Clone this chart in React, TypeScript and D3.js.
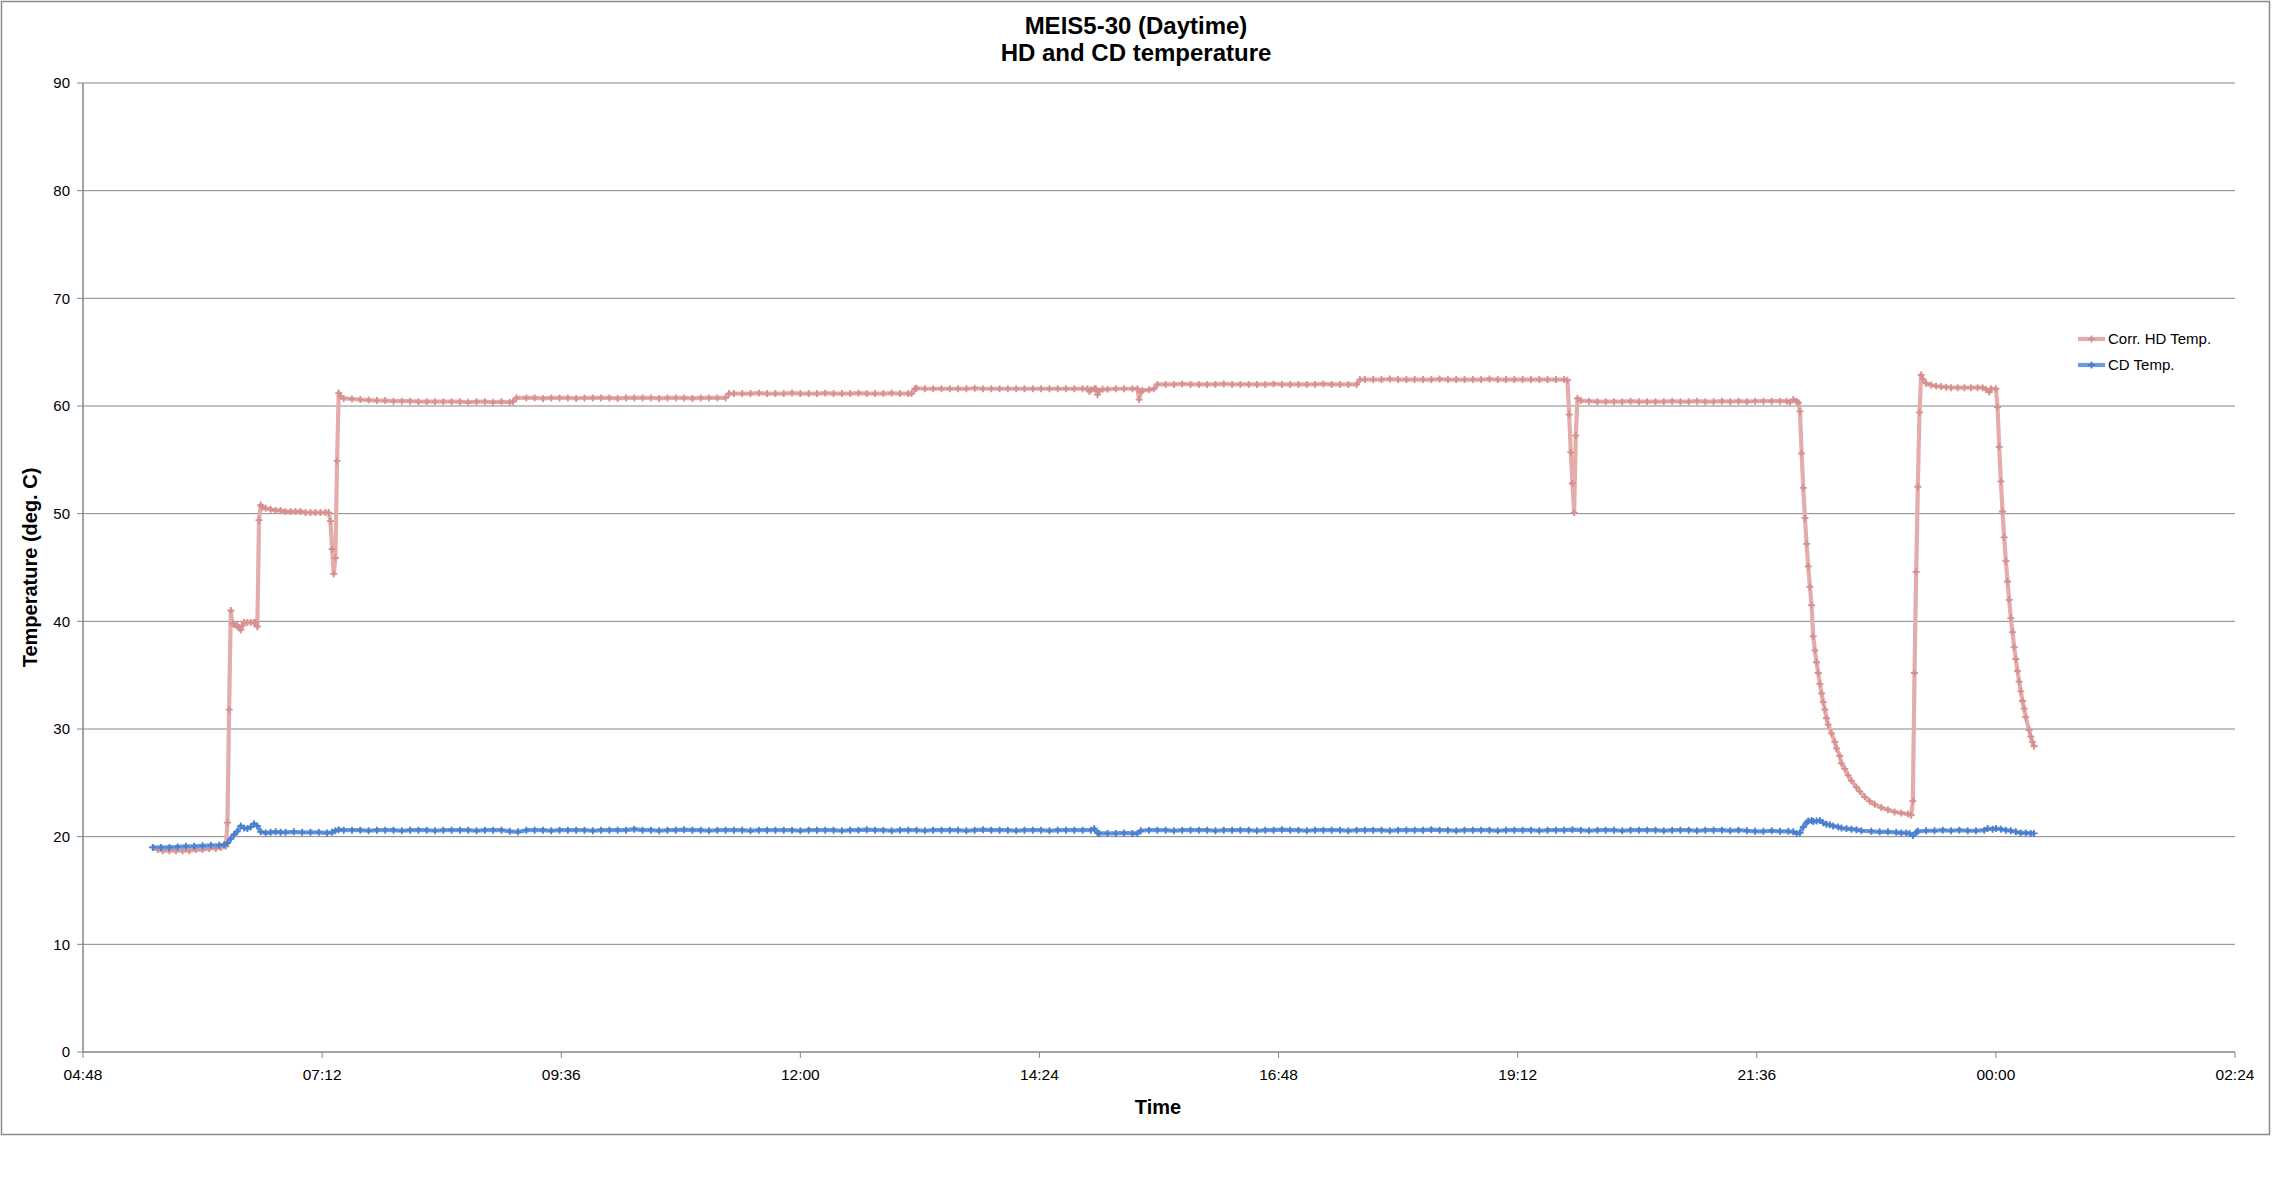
import * as d3 from "d3";

type Pt = [string, number];

// Corr. HD Temp. (time, deg C)
const hdWarmup: Pt[] = [
  ["05:30", 19.0], ["05:33", 18.8], ["05:36", 18.7], ["05:40", 18.7], ["05:44", 18.7], ["05:48", 18.7],
  ["05:52", 18.7], ["05:56", 18.8], ["06:00", 18.8], ["06:04", 18.9], ["06:08", 18.9], ["06:11", 19.0],
  ["06:14", 19.1], ["06:15", 21.3], ["06:16", 31.8], ["06:17", 41.0], ["06:18", 39.8], ["06:19", 39.7],
  ["06:20", 39.7], ["06:21", 39.6], ["06:22", 39.4], ["06:23", 39.2], ["06:24", 39.6], ["06:25", 39.9],
  ["06:27", 39.9], ["06:29", 39.9], ["06:31", 39.9], ["06:32", 39.9], ["06:33", 39.5], ["06:34", 49.4],
  ["06:35", 50.8], ["06:36", 50.6], ["06:38", 50.5], ["06:41", 50.4], ["06:44", 50.3], ["06:47", 50.3],
  ["06:50", 50.2], ["06:53", 50.2], ["06:56", 50.2], ["06:59", 50.2], ["07:02", 50.1], ["07:05", 50.1],
  ["07:08", 50.1], ["07:11", 50.1], ["07:14", 50.1], ["07:16", 50.1], ["07:17", 49.3], ["07:18", 46.7],
  ["07:19", 44.4], ["07:20", 45.9], ["07:21", 54.9], ["07:22", 61.2], ["07:23", 60.9],
];

const hdPlateau: Pt[] = [
  ["07:25", 60.7], ["07:30", 60.65], ["07:35", 60.6], ["07:40", 60.55], ["07:45", 60.5], ["07:50", 60.5],
  ["07:55", 60.45], ["08:00", 60.45], ["08:05", 60.45], ["08:10", 60.4], ["08:15", 60.4], ["08:20", 60.4],
  ["08:25", 60.4], ["08:30", 60.4], ["08:35", 60.4], ["08:40", 60.35], ["08:45", 60.4], ["08:50", 60.4],
  ["08:55", 60.35], ["09:00", 60.4], ["09:05", 60.35], ["09:07", 60.4],
  ["09:09", 60.75], ["09:15", 60.75], ["09:20", 60.75], ["09:25", 60.7], ["09:30", 60.75], ["09:35", 60.75],
  ["09:40", 60.75], ["09:45", 60.7], ["09:50", 60.75], ["09:55", 60.75], ["10:00", 60.75], ["10:05", 60.75],
  ["10:10", 60.7], ["10:15", 60.75], ["10:20", 60.75], ["10:25", 60.75], ["10:30", 60.75], ["10:35", 60.7],
  ["10:40", 60.75], ["10:45", 60.75], ["10:50", 60.75], ["10:55", 60.7], ["11:00", 60.75], ["11:05", 60.75],
  ["11:10", 60.75], ["11:15", 60.75],
  ["11:17", 61.15], ["11:20", 61.15], ["11:25", 61.15], ["11:30", 61.15], ["11:35", 61.2], ["11:40", 61.15],
  ["11:45", 61.15], ["11:50", 61.15], ["11:55", 61.2], ["12:00", 61.15], ["12:05", 61.15], ["12:10", 61.15],
  ["12:15", 61.2], ["12:20", 61.15], ["12:25", 61.15], ["12:30", 61.15], ["12:35", 61.2], ["12:40", 61.15],
  ["12:45", 61.15], ["12:50", 61.15], ["12:55", 61.2], ["13:00", 61.15], ["13:05", 61.15], ["13:07", 61.15],
  ["13:09", 61.6], ["13:10", 61.65], ["13:15", 61.6], ["13:20", 61.6], ["13:25", 61.6], ["13:30", 61.6],
  ["13:35", 61.6], ["13:40", 61.6], ["13:45", 61.65], ["13:50", 61.6], ["13:55", 61.6], ["14:00", 61.6],
  ["14:05", 61.6], ["14:10", 61.6], ["14:15", 61.6], ["14:20", 61.6], ["14:25", 61.6], ["14:30", 61.6],
  ["14:35", 61.6], ["14:40", 61.6], ["14:45", 61.6], ["14:50", 61.6], ["14:53", 61.6], ["14:54", 61.35],
  ["14:55", 61.5], ["14:57", 61.6], ["14:58", 61.6], ["14:59", 61.05], ["15:00", 61.4], ["15:02", 61.55],
  ["15:05", 61.55], ["15:10", 61.6], ["15:15", 61.6], ["15:20", 61.6], ["15:23", 61.6], ["15:24", 60.6],
  ["15:25", 61.3], ["15:26", 61.45], ["15:30", 61.5], ["15:33", 61.6],
  ["15:35", 62.0], ["15:40", 62.0], ["15:45", 62.0], ["15:50", 62.05], ["15:55", 62.0], ["16:00", 62.0],
  ["16:05", 62.0], ["16:10", 62.0], ["16:15", 62.05], ["16:20", 62.0], ["16:25", 62.0], ["16:30", 62.0],
  ["16:35", 62.0], ["16:40", 62.0], ["16:45", 62.05], ["16:50", 62.0], ["16:55", 62.0], ["17:00", 62.0],
  ["17:05", 62.0], ["17:10", 62.0], ["17:15", 62.05], ["17:20", 62.0], ["17:25", 62.0], ["17:30", 62.0],
  ["17:35", 62.0],
  ["17:37", 62.45], ["17:40", 62.45], ["17:45", 62.45], ["17:50", 62.45], ["17:55", 62.5], ["18:00", 62.45],
  ["18:05", 62.45], ["18:10", 62.45], ["18:15", 62.45], ["18:20", 62.45], ["18:25", 62.5], ["18:30", 62.45],
  ["18:35", 62.45], ["18:40", 62.45], ["18:45", 62.45], ["18:50", 62.45], ["18:55", 62.5], ["19:00", 62.45],
  ["19:05", 62.45], ["19:10", 62.45], ["19:15", 62.45], ["19:20", 62.45], ["19:25", 62.45], ["19:30", 62.45],
  ["19:35", 62.45], ["19:40", 62.45], ["19:42", 62.4],
];

const hdCooldown: Pt[] = [
  ["19:43", 59.2], ["19:44", 55.7], ["19:45", 52.8], ["19:46", 50.1], ["19:47", 57.25], ["19:48", 60.7],
  ["19:50", 60.5], ["19:55", 60.45], ["20:00", 60.4], ["20:05", 60.4], ["20:10", 60.4], ["20:15", 60.4],
  ["20:20", 60.45], ["20:25", 60.4], ["20:30", 60.4], ["20:35", 60.4], ["20:40", 60.4], ["20:45", 60.45],
  ["20:50", 60.4], ["20:55", 60.4], ["21:00", 60.45], ["21:05", 60.4], ["21:10", 60.4], ["21:15", 60.45],
  ["21:20", 60.4], ["21:25", 60.45], ["21:30", 60.4], ["21:35", 60.45], ["21:40", 60.45], ["21:45", 60.45],
  ["21:50", 60.45], ["21:54", 60.45], ["21:56", 60.35], ["21:58", 60.6], ["22:00", 60.45], ["22:01", 60.3],
  ["22:02", 59.5], ["22:03", 55.6], ["22:04", 52.4], ["22:05", 49.6], ["22:06", 47.2], ["22:07", 45.1],
  ["22:08", 43.2], ["22:09", 41.5], ["22:10", 38.6], ["22:11", 37.3], ["22:12", 36.2], ["22:13", 35.2],
  ["22:14", 34.2], ["22:15", 33.3], ["22:16", 32.5], ["22:17", 31.8], ["22:18", 31.0], ["22:19", 30.4],
  ["22:21", 29.6], ["22:23", 28.8], ["22:24", 28.2], ["22:26", 27.5], ["22:27", 26.8], ["22:29", 26.3],
  ["22:31", 25.7], ["22:33", 25.2], ["22:36", 24.6], ["22:38", 24.2], ["22:41", 23.7], ["22:44", 23.3],
  ["22:47", 23.0], ["22:51", 22.7], ["22:55", 22.5], ["22:59", 22.3], ["23:03", 22.2], ["23:07", 22.1],
  ["23:09", 22.0],
];

const hdReheat: Pt[] = [
  ["23:10", 23.3], ["23:11", 35.2], ["23:12", 44.6], ["23:13", 52.5], ["23:14", 59.4], ["23:15", 62.9],
  ["23:16", 62.5], ["23:18", 62.1], ["23:21", 61.95], ["23:24", 61.85], ["23:27", 61.8], ["23:30", 61.75],
  ["23:33", 61.7], ["23:37", 61.7], ["23:41", 61.7], ["23:45", 61.7], ["23:49", 61.7], ["23:52", 61.7],
  ["23:54", 61.55], ["23:56", 61.3], ["23:57", 61.6], ["00:00", 61.6], ["00:01", 59.9], ["00:02", 56.2],
  ["00:03", 53.0], ["00:04", 50.2], ["00:05", 47.8], ["00:06", 45.6], ["00:07", 43.7], ["00:08", 42.0],
  ["00:09", 40.3], ["00:10", 39.0], ["00:11", 37.6], ["00:12", 36.5], ["00:13", 35.4], ["00:14", 34.4],
  ["00:15", 33.5], ["00:16", 32.6], ["00:17", 31.9], ["00:18", 31.1], ["00:20", 29.9], ["00:21", 29.3],
  ["00:22", 28.8], ["00:23", 28.4],
];

// CD Temp.
const cdWarmup: Pt[] = [
  ["05:30", 19.0], ["05:35", 19.0], ["05:40", 19.0], ["05:45", 19.05], ["05:50", 19.1], ["05:55", 19.1],
  ["06:00", 19.15], ["06:05", 19.2], ["06:10", 19.2], ["06:13", 19.25], ["06:15", 19.4], ["06:17", 19.8],
  ["06:19", 20.2], ["06:21", 20.5], ["06:23", 21.0], ["06:25", 20.8], ["06:27", 20.75], ["06:29", 20.9],
  ["06:31", 21.2], ["06:33", 21.0], ["06:35", 20.45], ["06:38", 20.35], ["06:41", 20.4], ["06:44", 20.45],
  ["06:47", 20.4], ["06:50", 20.4], ["06:55", 20.45], ["07:00", 20.4], ["07:05", 20.4], ["07:10", 20.4],
  ["07:15", 20.35], ["07:18", 20.4], ["07:20", 20.55], ["07:22", 20.65],
];

const cdPlateau: Pt[] = [
  ["07:25", 20.6], ["07:30", 20.6], ["07:35", 20.6], ["07:40", 20.55], ["07:45", 20.6], ["07:50", 20.6],
  ["07:55", 20.6], ["08:00", 20.55], ["08:05", 20.6], ["08:10", 20.6], ["08:15", 20.6], ["08:20", 20.55],
  ["08:25", 20.6], ["08:30", 20.6], ["08:35", 20.6], ["08:40", 20.6], ["08:45", 20.55], ["08:50", 20.6],
  ["08:55", 20.6], ["09:00", 20.6], ["09:05", 20.5], ["09:10", 20.45], ["09:15", 20.6], ["09:20", 20.6],
  ["09:25", 20.6], ["09:30", 20.55], ["09:35", 20.6], ["09:40", 20.6], ["09:45", 20.6], ["09:50", 20.6],
  ["09:55", 20.55], ["10:00", 20.6], ["10:05", 20.6], ["10:10", 20.6], ["10:15", 20.6], ["10:20", 20.7],
  ["10:25", 20.6], ["10:30", 20.6], ["10:35", 20.55], ["10:40", 20.6], ["10:45", 20.6], ["10:50", 20.65],
  ["10:55", 20.6], ["11:00", 20.6], ["11:05", 20.55], ["11:10", 20.6], ["11:15", 20.6], ["11:20", 20.6],
  ["11:25", 20.6], ["11:30", 20.55], ["11:35", 20.6], ["11:40", 20.6], ["11:45", 20.6], ["11:50", 20.6],
  ["11:55", 20.6], ["12:00", 20.55], ["12:05", 20.6], ["12:10", 20.6], ["12:15", 20.6], ["12:20", 20.6],
  ["12:25", 20.55], ["12:30", 20.6], ["12:35", 20.6], ["12:40", 20.65], ["12:45", 20.6], ["12:50", 20.6],
  ["12:55", 20.55], ["13:00", 20.6], ["13:05", 20.6], ["13:10", 20.6], ["13:15", 20.55], ["13:20", 20.6],
  ["13:25", 20.6], ["13:30", 20.6], ["13:35", 20.6], ["13:40", 20.55], ["13:45", 20.6], ["13:50", 20.65],
  ["13:55", 20.6], ["14:00", 20.6], ["14:05", 20.6], ["14:10", 20.55], ["14:15", 20.6], ["14:20", 20.6],
  ["14:25", 20.6], ["14:30", 20.55], ["14:35", 20.6], ["14:40", 20.6], ["14:45", 20.6], ["14:50", 20.6],
  ["14:55", 20.6], ["14:57", 20.75], ["14:59", 20.35], ["15:00", 20.3], ["15:05", 20.3], ["15:10", 20.3],
  ["15:15", 20.35], ["15:20", 20.3], ["15:23", 20.3], ["15:25", 20.55], ["15:30", 20.6], ["15:35", 20.6],
  ["15:40", 20.6], ["15:45", 20.55], ["15:50", 20.6], ["15:55", 20.6], ["16:00", 20.6], ["16:05", 20.6],
  ["16:10", 20.55], ["16:15", 20.6], ["16:20", 20.6], ["16:25", 20.6], ["16:30", 20.6], ["16:35", 20.55],
  ["16:40", 20.6], ["16:45", 20.6], ["16:50", 20.65], ["16:55", 20.6], ["17:00", 20.6], ["17:05", 20.55],
  ["17:10", 20.6], ["17:15", 20.6], ["17:20", 20.6], ["17:25", 20.6], ["17:30", 20.55], ["17:35", 20.6],
  ["17:40", 20.6], ["17:45", 20.6], ["17:50", 20.6], ["17:55", 20.55], ["18:00", 20.6], ["18:05", 20.6],
  ["18:10", 20.6], ["18:15", 20.6], ["18:20", 20.65], ["18:25", 20.6], ["18:30", 20.6], ["18:35", 20.55],
  ["18:40", 20.6], ["18:45", 20.6], ["18:50", 20.6], ["18:55", 20.6], ["19:00", 20.55], ["19:05", 20.6],
  ["19:10", 20.6], ["19:15", 20.6], ["19:20", 20.6], ["19:25", 20.55], ["19:30", 20.6], ["19:35", 20.6],
  ["19:40", 20.6], ["19:45", 20.65], ["19:50", 20.6], ["19:55", 20.55], ["20:00", 20.6], ["20:05", 20.6],
  ["20:10", 20.6], ["20:15", 20.55], ["20:20", 20.6], ["20:25", 20.6], ["20:30", 20.6], ["20:35", 20.6],
  ["20:40", 20.55], ["20:45", 20.6], ["20:50", 20.6], ["20:55", 20.6], ["21:00", 20.55], ["21:05", 20.6],
  ["21:10", 20.6], ["21:15", 20.6], ["21:20", 20.55], ["21:25", 20.6], ["21:30", 20.55], ["21:35", 20.5],
  ["21:40", 20.5], ["21:45", 20.55], ["21:50", 20.5], ["21:55", 20.5],
];

const cdEnd: Pt[] = [
  ["21:58", 20.45], ["22:00", 20.3], ["22:02", 20.35], ["22:04", 20.9], ["22:06", 21.3], ["22:07", 21.45],
  ["22:09", 21.5], ["22:10", 21.4], ["22:12", 21.45], ["22:14", 21.5], ["22:16", 21.3], ["22:18", 21.15],
  ["22:20", 21.1], ["22:22", 21.0], ["22:25", 20.9], ["22:27", 20.8], ["22:30", 20.75], ["22:33", 20.7],
  ["22:36", 20.65], ["22:39", 20.55], ["22:45", 20.5], ["22:50", 20.45], ["22:55", 20.45], ["23:00", 20.4],
  ["23:03", 20.35], ["23:06", 20.35], ["23:08", 20.3], ["23:10", 20.1], ["23:12", 20.4], ["23:13", 20.5],
  ["23:18", 20.55], ["23:23", 20.55], ["23:28", 20.6], ["23:33", 20.55], ["23:38", 20.6], ["23:43", 20.55],
  ["23:48", 20.55], ["23:53", 20.6], ["23:55", 20.75], ["23:58", 20.7], ["00:00", 20.75], ["00:03", 20.7],
  ["00:06", 20.6], ["00:09", 20.55], ["00:12", 20.45], ["00:15", 20.35], ["00:18", 20.35], ["00:21", 20.3],
  ["00:23", 20.3],
];

const xTickLabels = ["04:48", "07:12", "09:36", "12:00", "14:24", "16:48", "19:12", "21:36", "00:00", "02:24"];
const yTicks = [0, 10, 20, 30, 40, 50, 60, 70, 80, 90];
const titleLines = ["MEIS5-30 (Daytime)", "HD and CD temperature"];

const series = [
  { name: "Corr. HD Temp.", data: [...hdWarmup, ...hdPlateau, ...hdCooldown, ...hdReheat], line: "#E4ADAC", marker: "#D68F8E" },
  { name: "CD Temp.", data: [...cdWarmup, ...cdPlateau, ...cdEnd], line: "#6C9CDD", marker: "#4A7ECE" },
];

// minutes after midnight; early-morning times belong to the next day
const toMin = (t: string) => {
  const [h, m] = t.split(":").map(Number);
  const v = h * 60 + m;
  return v < 240 ? v + 1440 : v;
};

const W = 2273;
const H = 1202;
const FONT = "'Liberation Sans', Arial, sans-serif";
const plot = { left: 83, right: 2235, top: 83, bottom: 1052 };
const grid = "#868686";

export default function App() {
  const ticksMin = xTickLabels.map(toMin);
  const x = d3.scaleLinear().domain([ticksMin[0], ticksMin[ticksMin.length - 1]]).range([plot.left, plot.right]);
  const y = d3.scaleLinear().domain([0, 90]).range([plot.bottom, plot.top]);
  const line = d3
    .line<Pt>()
    .x((d) => x(toMin(d[0])))
    .y((d) => y(d[1]));
  const cross = "M-3.5,0H3.5M0,-3.5V3.5";

  return (
    <svg
      width={W}
      height={H}
      style={{ position: "absolute", left: 0, top: 0, display: "block", background: "#fff" }}
      fontFamily={FONT}
    >
      <rect x={1.5} y={1.5} width={2268} height={1133} fill="#fff" stroke="#8a8a8a" strokeWidth={1.5} />

      {titleLines.map((t, i) => (
        <text key={t} x={1136} y={34 + i * 27} textAnchor="middle" fontSize={24} fontWeight="bold">
          {t}
        </text>
      ))}

      {/* gridlines + y axis */}
      {yTicks.map((v) => (
        <g key={v}>
          {v > 0 && <line x1={plot.left} x2={plot.right} y1={y(v)} y2={y(v)} stroke={grid} strokeWidth={1} />}
          <line x1={plot.left - 6} x2={plot.left} y1={y(v)} y2={y(v)} stroke={grid} strokeWidth={1} />
          <text x={plot.left - 13} y={y(v)} dy="0.35em" textAnchor="end" fontSize={15}>
            {v}
          </text>
        </g>
      ))}
      <line x1={plot.left} x2={plot.left} y1={plot.top} y2={plot.bottom} stroke={grid} strokeWidth={1.5} />
      <line x1={plot.left} x2={plot.right} y1={plot.bottom} y2={plot.bottom} stroke={grid} strokeWidth={1.5} />

      {/* x axis */}
      {xTickLabels.map((t, i) => (
        <g key={t} transform={`translate(${x(ticksMin[i])},0)`}>
          <line y1={plot.bottom} y2={plot.bottom + 6} stroke={grid} strokeWidth={1} />
          <text y={1080} textAnchor="middle" fontSize={15.5}>
            {t}
          </text>
        </g>
      ))}

      <text x={1158} y={1114} textAnchor="middle" fontSize={20} fontWeight="bold">
        Time
      </text>
      <text
        transform={`translate(37,${(plot.top + plot.bottom) / 2}) rotate(-90)`}
        textAnchor="middle"
        fontSize={20}
        fontWeight="bold"
      >
        Temperature (deg. C)
      </text>

      {/* series */}
      {series.map((s) => (
        <g key={s.name}>
          <path d={line(s.data) ?? ""} fill="none" stroke={s.line} strokeWidth={4.2} strokeLinejoin="round" />
          {s.data.map((d, i) => (
            <path
              key={i}
              d={cross}
              transform={`translate(${x(toMin(d[0]))},${y(d[1])})`}
              stroke={s.marker}
              strokeWidth={1.8}
            />
          ))}
        </g>
      ))}

      {/* legend */}
      {series.map((s, i) => (
        <g key={s.name} transform={`translate(0,${339 + i * 26})`}>
          <line x1={2078} x2={2105} y1={0} y2={0} stroke={s.line} strokeWidth={4.2} />
          <path d={cross} transform="translate(2091.5,0)" stroke={s.marker} strokeWidth={1.8} />
          <text x={2108} y={0} dy="0.35em" fontSize={15}>
            {s.name}
          </text>
        </g>
      ))}
    </svg>
  );
}
